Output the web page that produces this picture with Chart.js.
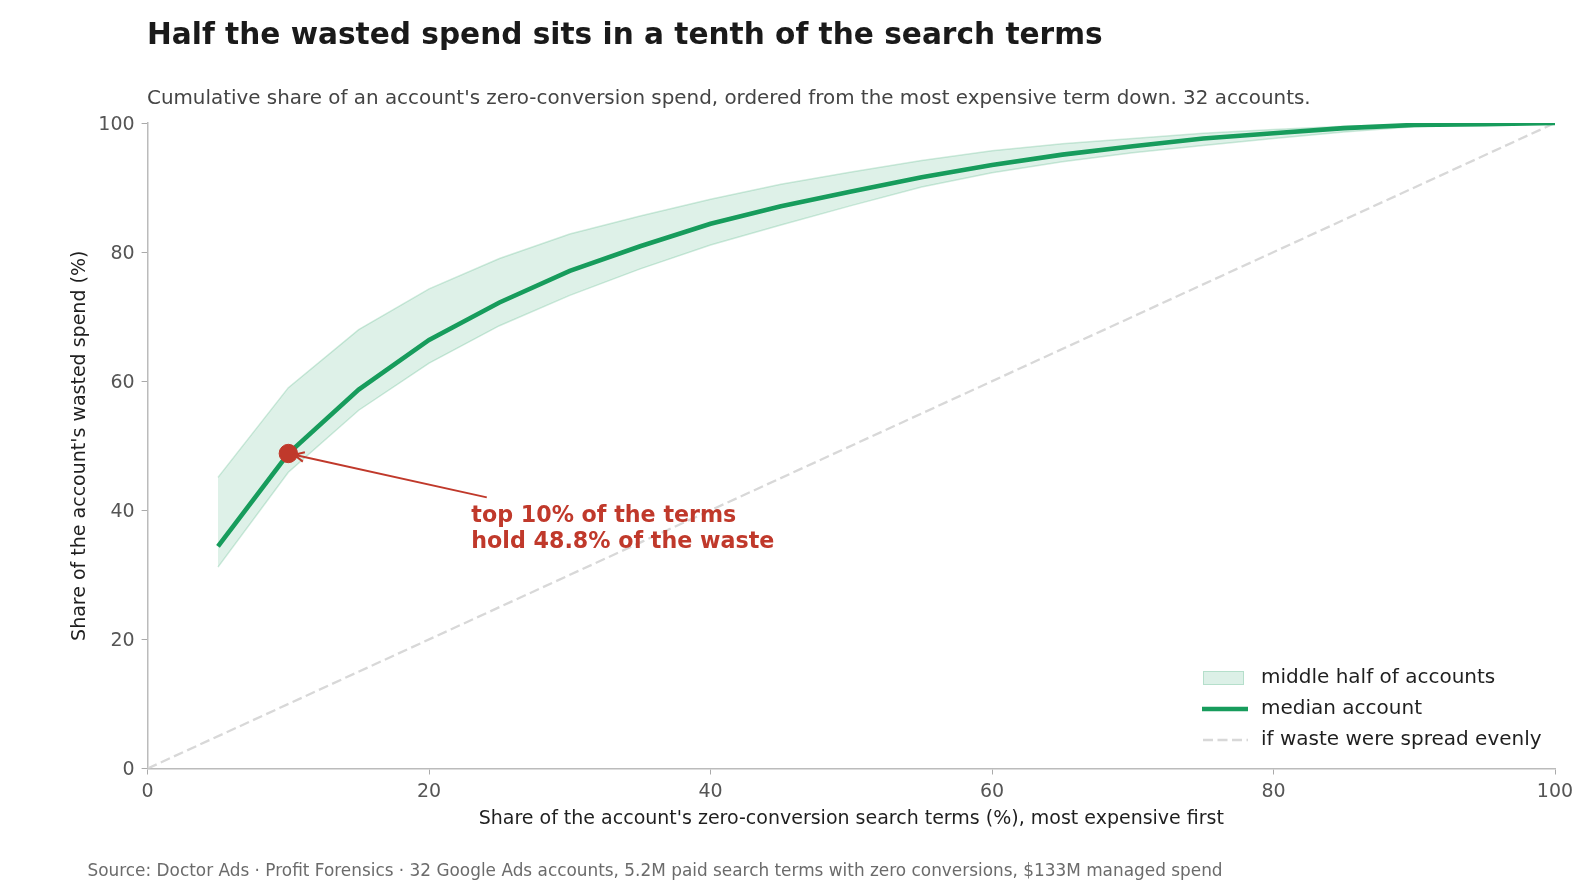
<!DOCTYPE html>
<html>
<head>
<meta charset="utf-8">
<script src="https://cdn.jsdelivr.net/npm/chart.js@4.4.1/dist/chart.umd.min.js"></script>
<style>
  html, body { margin: 0; padding: 0; background: #fff; overflow: hidden; font-family: "DejaVu Sans", sans-serif; }
  #wrap { position: relative; width: 1596px; height: 896px; }
  #curveChart { position: absolute; left: 0; top: 0; }
  .txt { position: absolute; white-space: nowrap; line-height: 1; }
  #title { left: 147px; top: 20px; font-size: 29.6px; font-weight: bold; color: #1a1a1a; }
  #subtitle { left: 147px; top: 88px; font-size: 19.9px; color: #444; }
  #source { left: 87.5px; top: 862px; font-size: 16.9px; color: #6b6b6b; }
</style>
</head>
<body>
<div id="wrap">
  <canvas id="curveChart" width="1596" height="896"></canvas>
  <div class="txt" id="title">Half the wasted spend sits in a tenth of the search terms</div>
  <div class="txt" id="subtitle">Cumulative share of an account's zero-conversion spend, ordered from the most expensive term down. 32 accounts.</div>
  <div class="txt" id="source">Source: Doctor Ads · Profit Forensics · 32 Google Ads accounts, 5.2M paid search terms with zero conversions, $133M managed spend</div>
</div>
<script>
// share of search terms (%), most expensive first
var termShare = [5, 10, 15, 20, 25, 30, 35, 40, 45, 50, 55, 60, 65, 70, 75, 80, 85, 90, 95, 100];
// median account, cumulative share of wasted spend (%)
var medianShare = [34.4, 48.8, 58.7, 66.4, 72.2, 77.1, 80.9, 84.4, 87.1, 89.4, 91.6, 93.5, 95.1, 96.4, 97.6, 98.4, 99.2, 99.7, 99.8, 100];
// middle half of accounts (25th / 75th percentile)
var upperShare = [45.1, 59.0, 68.0, 74.3, 79.0, 82.8, 85.6, 88.2, 90.5, 92.4, 94.2, 95.7, 96.8, 97.6, 98.4, 99.0, 99.5, 99.8, 99.9, 100];
var lowerShare = [31.2, 45.9, 55.5, 62.8, 68.6, 73.3, 77.4, 81.1, 84.2, 87.2, 90.1, 92.3, 94.0, 95.4, 96.5, 97.6, 98.6, 99.4, 99.8, 100];
// even spread reference
var evenX = [0, 100];
var evenY = [0, 100];
var xTicks = [0, 20, 40, 60, 80, 100];
var yTicks = [0, 20, 40, 60, 80, 100];
var highlight = { x: 10, y: 48.8 };

var green = '#179c5c';
var red = '#c0392b';

function toPoints(xs, ys) {
    var pts = [];
    for (var i = 0; i < xs.length; i++) {
        pts.push({ x: xs[i], y: ys[i] });
    }
    return pts;
}

// legend in the bottom right corner and the red callout
var extrasPlugin = {
    id: 'extras',
    afterDatasetsDraw: function(chart) {
        var ctx = chart.ctx;
        var xs = chart.scales.x, ys = chart.scales.y;

        // arrow from the label to the highlighted point
        var px = xs.getPixelForValue(highlight.x), py = ys.getPixelForValue(highlight.y);
        var sx = xs.getPixelForValue(24.1), sy = ys.getPixelForValue(42.0);
        var ang = Math.atan2(sy - py, sx - px);
        var tx = px + Math.cos(ang) * 6, ty = py + Math.sin(ang) * 6;
        ctx.save();
        ctx.strokeStyle = red;
        ctx.lineWidth = 2;
        ctx.beginPath();
        ctx.moveTo(sx, sy);
        ctx.lineTo(tx, ty);
        ctx.moveTo(tx + Math.cos(ang + 0.45) * 11, ty + Math.sin(ang + 0.45) * 11);
        ctx.lineTo(tx, ty);
        ctx.lineTo(tx + Math.cos(ang - 0.45) * 11, ty + Math.sin(ang - 0.45) * 11);
        ctx.stroke();

        ctx.fillStyle = red;
        ctx.font = 'bold 22.2px "DejaVu Sans"';
        ctx.textBaseline = 'middle';
        ctx.textAlign = 'left';
        var lx = xs.getPixelForValue(23.0), ly = ys.getPixelForValue(39.1);
        ctx.fillText('top 10% of the terms', lx, ly);
        ctx.fillText('hold 48.8% of the waste', lx, ly + 26.5);
        ctx.restore();

        // legend
        var items = [
            { label: chart.data.datasets[0].label, kind: 'band' },
            { label: chart.data.datasets[2].label, kind: 'line' },
            { label: chart.data.datasets[3].label, kind: 'dash' }
        ];
        var x0 = 1203, y0 = 678, gap = 31;
        ctx.save();
        ctx.font = '20px "DejaVu Sans"';
        ctx.textBaseline = 'middle';
        ctx.textAlign = 'left';
        for (var i = 0; i < items.length; i++) {
            var y = y0 + i * gap;
            if (items[i].kind == 'band') {
                ctx.fillStyle = 'rgba(23,156,92,0.15)';
                ctx.fillRect(x0, y - 7, 41, 14);
                ctx.strokeStyle = 'rgba(23,156,92,0.2)';
                ctx.lineWidth = 1;
                ctx.strokeRect(x0 + 0.5, y - 6.5, 40, 13);
            } else if (items[i].kind == 'line') {
                ctx.strokeStyle = green;
                ctx.lineWidth = 4.5;
                ctx.beginPath(); ctx.moveTo(x0 - 1, y); ctx.lineTo(x0 + 45, y); ctx.stroke();
            } else {
                ctx.strokeStyle = '#d8d8d8';
                ctx.lineWidth = 2.3;
                ctx.setLineDash([10, 4.5]);
                ctx.beginPath(); ctx.moveTo(x0, y); ctx.lineTo(x0 + 45, y); ctx.stroke();
                ctx.setLineDash([]);
            }
            ctx.fillStyle = '#1f1f1f';
            ctx.fillText(items[i].label, 1261, y);
        }
        ctx.restore();
    }
};

var ctx = document.getElementById('curveChart').getContext('2d');
var chart = new Chart(ctx, {
    type: 'line',
    data: {
        datasets: [{
            label: 'middle half of accounts',
            data: toPoints(termShare, upperShare),
            borderColor: 'rgba(23,156,92,0.2)',
            borderWidth: 1.5,
            backgroundColor: 'rgba(23,156,92,0.14)',
            fill: '+1',
            pointRadius: 0,
            order: 3
        }, {
            label: 'lower',
            data: toPoints(termShare, lowerShare),
            borderColor: 'rgba(23,156,92,0.2)',
            borderWidth: 1.5,
            fill: false,
            pointRadius: 0,
            order: 3
        }, {
            label: 'median account',
            data: toPoints(termShare, medianShare),
            borderColor: green,
            borderWidth: 4.6,
            fill: false,
            pointRadius: 0,
            order: 1
        }, {
            label: 'if waste were spread evenly',
            data: toPoints(evenX, evenY),
            borderColor: '#d8d8d8',
            borderWidth: 2.3,
            borderDash: [10, 4.5],
            fill: false,
            pointRadius: 0,
            order: 4
        }, {
            label: 'highlight',
            data: [highlight],
            showLine: false,
            pointRadius: 9.2,
            pointBackgroundColor: red,
            pointBorderColor: red,
            order: 0
        }]
    },
    options: {
        responsive: false,
        animation: false,
        devicePixelRatio: 1,
        layout: { padding: { left: 60, right: 41, top: 123, bottom: 57.5 } },
        plugins: {
            legend: { display: false },
            tooltip: { enabled: false }
        },
        scales: {
            x: {
                type: 'linear',
                min: 0,
                max: 100,
                afterBuildTicks: function(scale) {
                    scale.ticks = xTicks.map(function(v) { return { value: v }; });
                },
                afterFit: function(scale) { scale.height = 70; },
                grid: { display: true, drawOnChartArea: false, drawTicks: true, tickLength: 6, color: '#aaaaaa' },
                border: { display: true, color: '#bbbbbb', width: 1.5 },
                ticks: { color: '#555', font: { family: 'DejaVu Sans', size: 19 }, padding: 6, maxRotation: 0 },
                title: {
                    display: true,
                    text: "Share of the account's zero-conversion search terms (%), most expensive first",
                    color: '#1f1f1f',
                    font: { family: 'DejaVu Sans', size: 19 },
                    padding: { top: 0, bottom: 8.2 }
                }
            },
            y: {
                type: 'linear',
                min: 0,
                max: 100,
                afterBuildTicks: function(scale) {
                    scale.ticks = yTicks.map(function(v) { return { value: v }; });
                },
                afterFit: function(scale) { scale.width = 87.6; },
                grid: { display: true, drawOnChartArea: false, drawTicks: true, tickLength: 6, color: '#aaaaaa' },
                border: { display: true, color: '#bbbbbb', width: 1.5 },
                ticks: { color: '#555', font: { family: 'DejaVu Sans', size: 19 }, padding: 7, labelOffset: 2 },
                title: {
                    display: true,
                    text: "Share of the account's wasted spend (%)",
                    color: '#1f1f1f',
                    font: { family: 'DejaVu Sans', size: 19 },
                    padding: { top: 9, bottom: 0 }
                }
            }
        }
    },
    plugins: [extrasPlugin]
});
</script>
</body>
</html>
